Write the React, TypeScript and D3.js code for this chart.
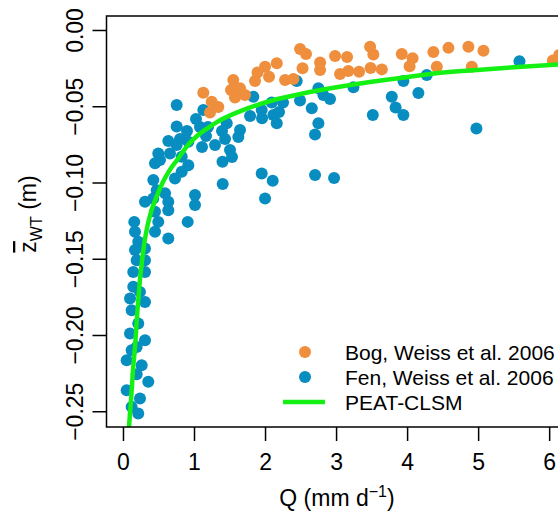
import React from 'react';
import * as d3 from 'd3';

// Bog, Weiss et al. 2006
const bogQ = [1.124, 1.242, 1.218, 1.335, 1.546, 1.514, 1.570, 1.641, 1.711, 1.852, 1.887, 1.993, 2.049, 2.158, 2.275, 2.392, 2.486, 2.570, 2.521, 2.768, 2.768, 2.979, 3.148, 3.049, 3.166, 3.317, 3.472, 3.518, 3.479, 3.637, 3.918, 4.070, 4.028, 4.363, 4.411, 4.575, 4.856, 4.904, 5.068, 6.045, 6.134];
const bogZ = [-0.0408, -0.0467, -0.0538, -0.0502, -0.0325, -0.0390, -0.0440, -0.0379, -0.0423, -0.0331, -0.0276, -0.0238, -0.0303, -0.0215, -0.0325, -0.0318, -0.0121, -0.0154, -0.0248, -0.0210, -0.0259, -0.0167, -0.0174, -0.0285, -0.0266, -0.0270, -0.0106, -0.0157, -0.0246, -0.0255, -0.0154, -0.0182, -0.0235, -0.0141, -0.0238, -0.0114, -0.0106, -0.0238, -0.0133, -0.0197, -0.0161];

// Fen, Weiss et al. 2006
const fenQ = [
  0.749, 0.749, 0.894, 0.796, 0.631, 0.490, 1.021, 1.124, 1.077, 1.190, 1.162, 1.106, 1.289, 0.913, 0.820, 0.749, 0.444, 0.913, 0.514,
  1.454, 1.430, 1.500, 1.394, 1.528, 1.641, 1.617, 1.782, 1.828, 1.951, 1.946, 2.087, 2.110, 2.190, 2.158, 2.246, 2.439, 2.486,
  2.651, 2.744, 2.814, 2.908, 2.744, 2.697, 3.237, 3.510, 3.777, 3.831, 3.941, 3.941, 4.152, 4.270, 4.969, 5.575, 1.387,
  0.820, 0.725, 0.420, 0.468, 0.585, 0.303, 0.631, 0.631, 1.007, 1.007, 0.904, 0.490, 0.444, 0.152, 0.162, 0.208, 0.631,
  0.303, 0.162, 0.303, 0.186, 0.138, 0.303, 0.138, 0.232, 0.092, 0.303, 0.444, 0.420, 0.655,
  0.115, 0.208, 0.092, 0.303, 0.186, 0.045, 0.256, 0.186, 0.349, 0.045, 0.232, 0.115, 0.208, 0.115,
  1.397, 1.946, 2.101, 1.993, 2.697, 2.965
];
const fenZ = [
  -0.0489, -0.0630, -0.0659, -0.0712, -0.0725, -0.0806, -0.0581, -0.0522, -0.0633, -0.0633, -0.0692, -0.0764, -0.0751, -0.0730, -0.0828, -0.0751, -0.0871, -0.0883, -0.0850,
  -0.0609, -0.0712, -0.0784, -0.0861, -0.0830, -0.0653, -0.0699, -0.0561, -0.0434, -0.0576, -0.0522, -0.0472, -0.0554, -0.0535, -0.0609, -0.0472, -0.0331, -0.0459,
  -0.0510, -0.0379, -0.0423, -0.0449, -0.0609, -0.0682, -0.0373, -0.0554, -0.0434, -0.0505, -0.0554, -0.0331, -0.0410, -0.0292, -0.0642, -0.0202, -0.0659,
  -0.0927, -0.0970, -0.0981, -0.1047, -0.1068, -0.1123, -0.1123, -0.1178, -0.1079, -0.1145, -0.1255, -0.1255, -0.1320, -0.1255, -0.1320, -0.1386, -0.1364,
  -0.1429, -0.1440, -0.1506, -0.1506, -0.1583, -0.1583, -0.1681, -0.1714, -0.1757, -0.1781, -0.1189, -0.1101, -0.0806,
  -0.1834, -0.1921, -0.1987, -0.2031, -0.2075, -0.2162, -0.2195, -0.2254, -0.2304, -0.2359, -0.2413, -0.2468, -0.2512, -0.2096,
  -0.1007, -0.0937, -0.0986, -0.1101, -0.0948, -0.0968
];

// PEAT-CLSM curve
const clsmQ = [0.077, 0.106, 0.134, 0.169, 0.197, 0.225, 0.254, 0.289, 0.331, 0.387, 0.458, 0.542, 0.641, 0.754, 0.908, 1.035, 1.176, 1.303, 1.613, 2.092, 2.556, 2.979, 3.472, 3.894, 4.317, 4.880, 5.444, 6.120, 6.600];
const clsmZ = [-0.2602, -0.2425, -0.2228, -0.2031, -0.1834, -0.1670, -0.1539, -0.1408, -0.1296, -0.1191, -0.1099, -0.1007, -0.0922, -0.0850, -0.0751, -0.0692, -0.0643, -0.0604, -0.0535, -0.0459, -0.0410, -0.0374, -0.0338, -0.0312, -0.0285, -0.0262, -0.0243, -0.0223, -0.0210];

const xTicks = [0, 1, 2, 3, 4, 5, 6];
const yTicks = [0, -0.05, -0.1, -0.15, -0.2, -0.25];

const legendLabels = ['Bog, Weiss et al. 2006', 'Fen, Weiss et al. 2006', 'PEAT-CLSM'];

const ORANGE = '#EF8E3C';
const BLUE = '#078DC0';
const GREEN = '#14F014';

const W = 558;
const H = 516;
const L = 106.5, T = 16, R = 642, B = 427;
const FONT = 'Liberation Sans, Arial, Helvetica, sans-serif';
const FS = 23;
const LFS = 21;

export default function App() {
  const x = d3.scaleLinear().domain([-0.239, 7.3]).range([L, R]);
  const y = d3.scaleLinear().domain([-0.26, 0.0095]).range([B, T]);
  const line = d3.line<number>()
    .x((_, i) => x(clsmQ[i]))
    .y((_, i) => y(clsmZ[i]))
    .curve(d3.curveMonotoneX);
  const linePath = line(clsmQ) || '';
  const fmt = d3.format('.2f');

  return (
    <svg width={W} height={H} style={{ position: 'absolute', left: 0, top: 0 }} fontFamily={FONT}>
      <rect x={0} y={0} width={W} height={H} fill="white" />
      <defs>
        <clipPath id="plotclip">
          <rect x={L} y={T} width={R - L} height={B - T} />
        </clipPath>
      </defs>
      <g clipPath="url(#plotclip)">
        {fenQ.map((q, i) => (
          <circle key={'f' + i} cx={x(q)} cy={y(fenZ[i])} r={6} fill={BLUE} />
        ))}
        {bogQ.map((q, i) => (
          <circle key={'b' + i} cx={x(q)} cy={y(bogZ[i])} r={6} fill={ORANGE} />
        ))}
        <path d={linePath} fill="none" stroke={GREEN} strokeWidth={4.5} />
      </g>
      <rect x={L} y={T} width={R - L} height={B - T} fill="none" stroke="black" strokeWidth={1.5} />
      {xTicks.map((t) => (
        <g key={'xt' + t}>
          <line x1={x(t)} x2={x(t)} y1={B} y2={B + 14} stroke="black" strokeWidth={1.5} />
          <text x={x(t)} y={470} textAnchor="middle" fontSize={FS}>{t}</text>
        </g>
      ))}
      {yTicks.map((t) => (
        <g key={'yt' + t}>
          <line x1={L - 14} x2={L} y1={y(t)} y2={y(t)} stroke="black" strokeWidth={1.5} />
          <text transform={`translate(83,${y(t)}) rotate(-90)`} textAnchor="middle" fontSize={FS}>{fmt(t)}</text>
        </g>
      ))}
      <text x={337} y={506} textAnchor="middle" fontSize={FS}>
        Q (mm d<tspan dy={-9} fontSize={16}>−1</tspan><tspan dy={9}>)</tspan>
      </text>
      <g transform="translate(36,214) rotate(-90)">
        <text x={0} y={0} textAnchor="middle" fontSize={FS}>
          <tspan textDecoration="overline">z</tspan>
          <tspan dy={6} fontSize={16}>WT</tspan>
          <tspan dy={-6}> (m)</tspan>
        </text>
      </g>
      <circle cx={305} cy={352} r={6} fill={ORANGE} />
      <circle cx={305} cy={377} r={6} fill={BLUE} />
      <line x1={283} x2={325} y1={402} y2={402} stroke={GREEN} strokeWidth={4.5} />
      {legendLabels.map((lab, i) => (
        <text key={lab} x={345} y={352 + i * 25} dominantBaseline="central" fontSize={LFS}>{lab}</text>
      ))}
    </svg>
  );
}
